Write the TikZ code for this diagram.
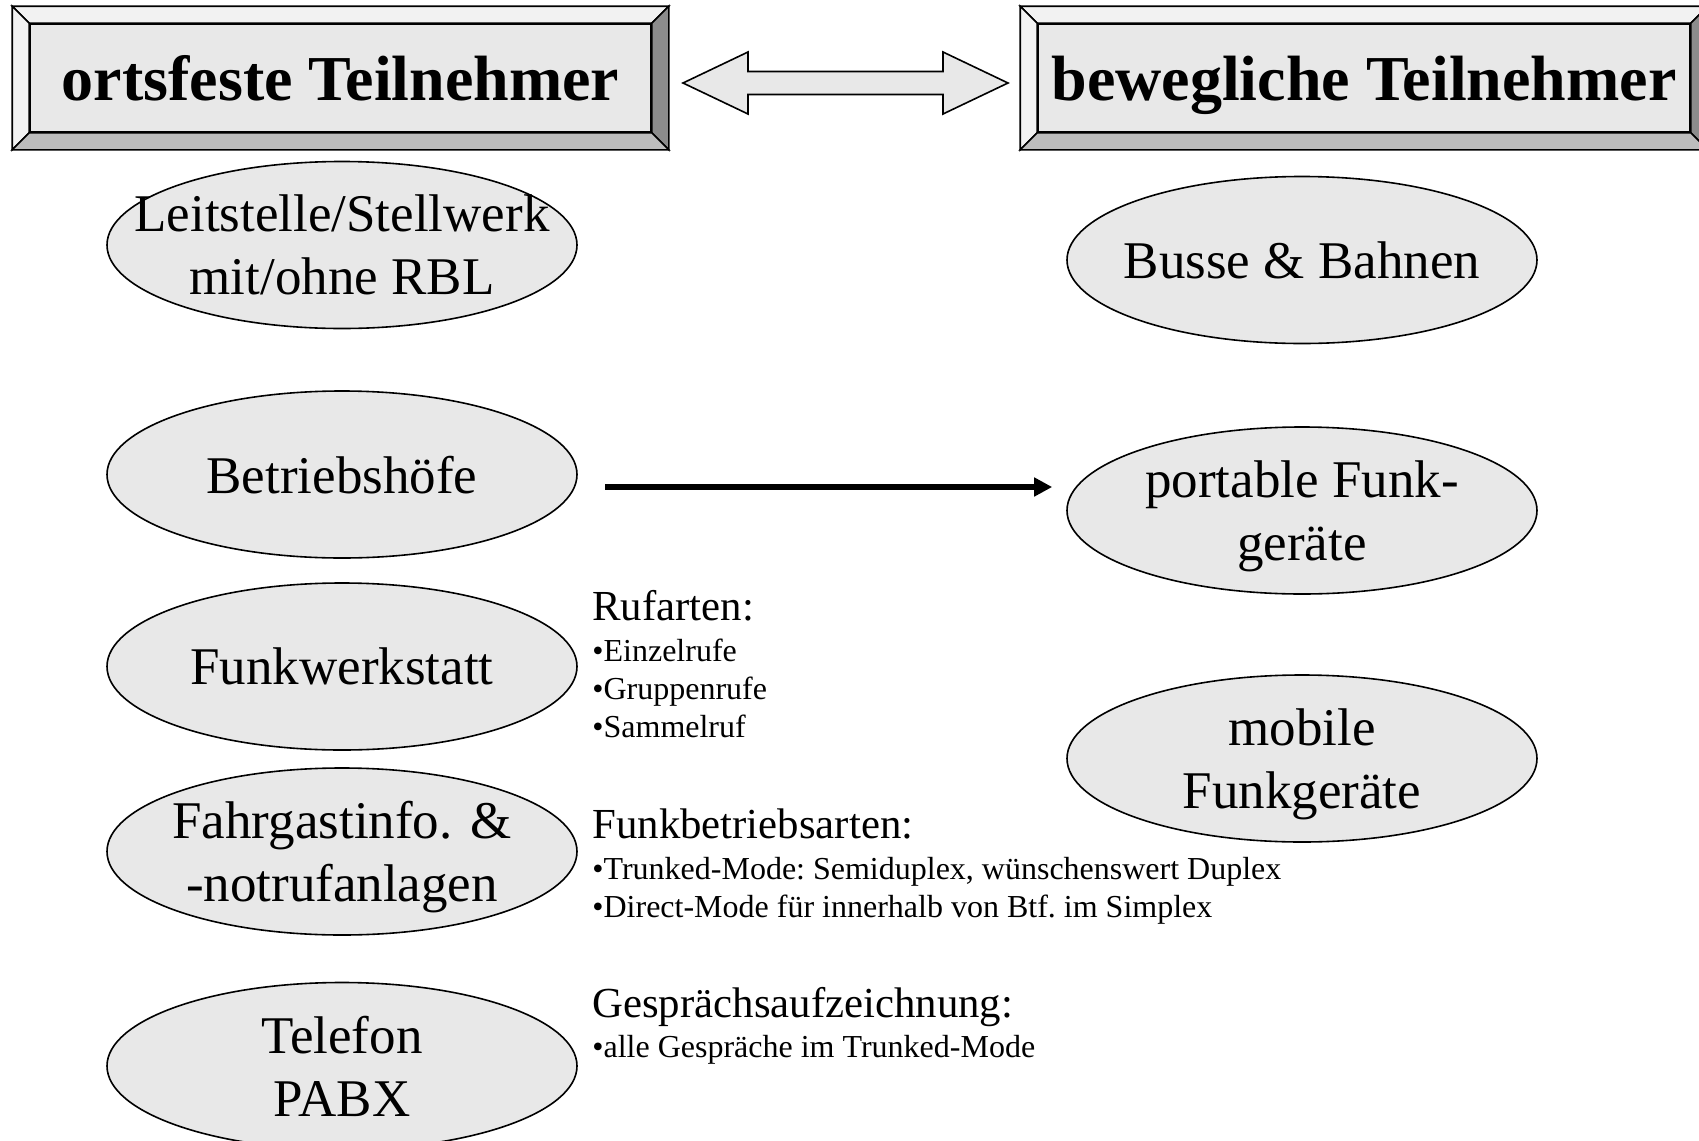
\documentclass[tikz,border=0pt]{standalone}
\usepackage{fontspec}
\setmainfont{Liberation Serif}
\usetikzlibrary{shapes.geometric,arrows.meta,positioning}
\definecolor{ovalgray}{gray}{0.91}
\definecolor{hdrgray}{gray}{0.91}
\definecolor{bevellight}{gray}{0.95}
\definecolor{bevelmid}{gray}{0.74}
\definecolor{beveldark}{gray}{0.55}
\newcommand{\zw}[1]{\makebox[0pt]{\raisebox{0pt}[\height][0pt]{#1}}}
\tikzset{
  oval/.style={ellipse, draw, line width=0.8pt, fill=ovalgray, minimum width=235pt,
    minimum height=83.5pt, inner sep=0pt, align=center, font=\fontsize{26.5}{31.5}\selectfont},
  hdr/.style={draw, line width=0.8pt, fill=hdrgray, inner sep=0pt, minimum height=54pt,
    text height=22pt, text depth=0pt, font=\fontsize{32}{38}\selectfont\bfseries},
  heading/.style={anchor=base west, inner sep=0pt, font=\fontsize{21.4}{25}\selectfont},
  listitem/.style={anchor=base west, inner sep=0pt, font=\fontsize{16}{19}\selectfont\frenchspacing}
}
\begin{document}
\begin{tikzpicture}[x=0.5pt, y=-0.5pt]
      \useasboundingbox (0,0) rectangle (1699,1141);
      \clip (0,0) rectangle (1699,1141);

      \node[hdr, minimum width=310.5pt] (fixhdr) at (340.5,78) {ortsfeste Teilnehmer};
      \node[hdr, minimum width=326pt] (mobhdr) at (1364,78) {bewegliche Teilnehmer};

      \foreach \n in {fixhdr, mobhdr} {
        \coordinate (onw) at ([shift={(-17,-17)}]\n.north west);
        \coordinate (one) at ([shift={(17,-17)}]\n.north east);
        \coordinate (osw) at ([shift={(-17,17)}]\n.south west);
        \coordinate (ose) at ([shift={(17,17)}]\n.south east);
        \filldraw[fill=bevellight, line width=0.8pt] (onw)--(one)--(\n.north east)--(\n.north west)--cycle;
        \filldraw[fill=bevellight, line width=0.8pt] (onw)--(\n.north west)--(\n.south west)--(osw)--cycle;
        \filldraw[fill=beveldark, line width=0.8pt] (one)--(ose)--(\n.south east)--(\n.north east)--cycle;
        \filldraw[fill=bevelmid, line width=0.8pt] (osw)--(\n.south west)--(\n.south east)--(ose)--cycle;
      }

      \filldraw[fill=hdrgray, line width=0.8pt] (683,83)--(748,52)--(748,71.5)--(943,71.5)--(943,52)--(1008,83)
        --(943,114)--(943,94.5)--(748,94.5)--(748,114)--cycle;

      \node[oval] (leit) at (342,245) {\zw{Leitstelle/Stellwerk}\\\zw{mit/ohne RBL}};
      \node[oval] (btf) at (342,474.5) {\zw{Betriebshöfe}};
      \node[oval] (werk) at (342,666.5) {\zw{Funkwerkstatt}};
      \node[oval] (fahrg) at (342,851.5) {\zw{Fahrgastinfo. \&}\\\zw{-notrufanlagen}};
      \node[oval] (tel) at (342,1066) {\zw{Telefon}\\\zw{PABX}};

      \node[oval] (bahnen) at (1302,260) {\zw{Busse \& Bahnen}};
      \node[oval] (portable) at (1302,510.5) {\zw{portable Funk-}\\\zw{geräte}};
      \node[oval] (mobile) at (1302,758.5) {\zw{mobile}\\\zw{Funkgeräte}};

      \coordinate (arrstart) at (605,487);
      \draw[line width=2.8pt, -{Triangle[length=9pt,width=9pt]}, shorten >=7pt]
        (arrstart) -- (arrstart -| portable.west);

      \node[heading] (rufh) at (592,620) {Rufarten:};
      \foreach \txt [count=\i] in {Einzelrufe, Gruppenrufe, Sammelruf}
        \node[listitem] (ruf\i) at (592,623+38*\i) {•\txt};

      \node[heading] (betrh) at (592,838) {Funkbetriebsarten:};
      \foreach \txt [count=\i] in {{Trunked-Mode: Semiduplex, wünschenswert Duplex},
                                   {Direct-Mode für innerhalb von Btf. im Simplex}}
        \node[listitem] (betr\i) at (592,841+38*\i) {•\txt};

      \node[heading] (gesph) at (592,1017) {Gesprächsaufzeichnung:};
      \node[listitem] (gesp1) at (592,1057) {•alle Gespräche im Trunked-Mode};
    \end{tikzpicture}
\end{document}
